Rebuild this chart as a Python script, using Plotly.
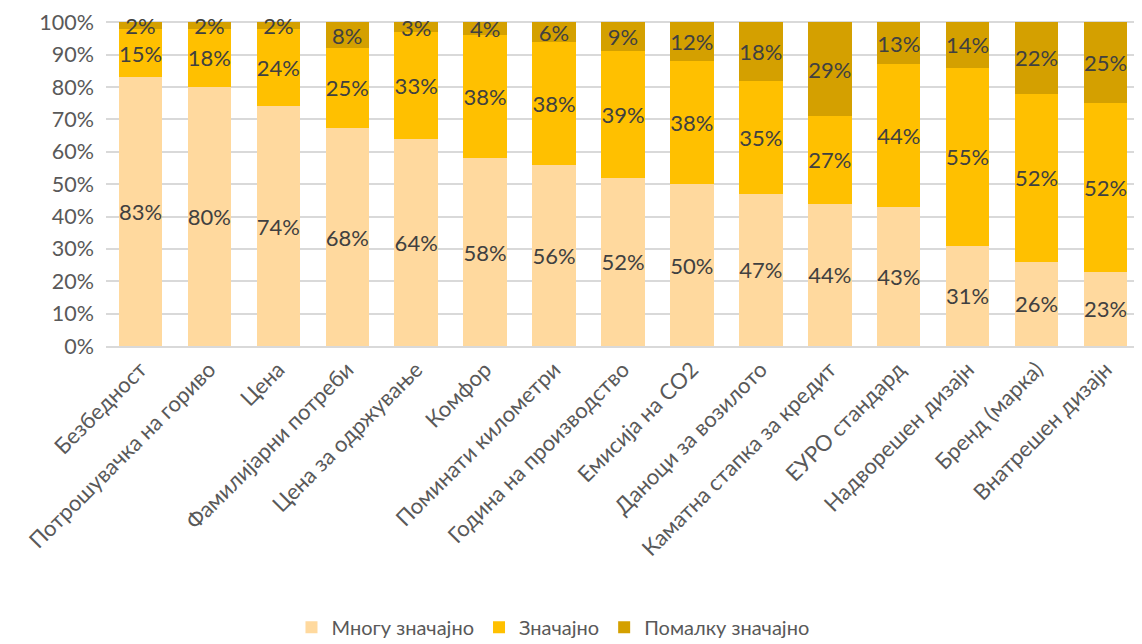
import plotly.graph_objects as go

categories = ["Безбедност", "Потрошувачка на гориво", "Цена", "Фамилијарни потреби",
              "Цена за одржување", "Комфор", "Поминати километри", "Година на производство",
              "Емисија на CO2", "Даноци за возилото", "Каматна стапка за кредит",
              "ЕУРО стандард", "Надворешен дизајн", "Бренд (марка)", "Внатрешен дизајн"]
many = [83, 80, 74, 68, 64, 58, 56, 52, 50, 47, 44, 43, 31, 26, 23]
important = [15, 18, 24, 25, 33, 38, 38, 39, 38, 35, 27, 44, 55, 52, 52]
little = [2, 2, 2, 8, 3, 4, 6, 9, 12, 18, 29, 13, 14, 22, 25]
series_names = ["Многу значајно", "Значајно", "Помалку значајно"]
colors = ["#FFD99E", "#FFC000", "#D4A000"]
yticks = list(range(0, 101, 10))

FONT = "Lato"
fig = go.Figure()
for name, vals, col in zip(series_names, [many, important, little], colors):
    fig.add_trace(go.Bar(
        x=categories, y=vals, name=name, marker=dict(color=col, line=dict(width=0)),
        text=[f"{v}%" for v in vals], textposition="inside", insidetextanchor="middle",
        textangle=0, textfont=dict(family=FONT, size=22, color="#404040"),
        cliponaxis=False,
    ))

fig.update_layout(
    barmode="stack", barnorm="percent", bargap=0.37,
    width=1134, height=636, paper_bgcolor="white", plot_bgcolor="white",
    margin=dict(l=86, r=2, t=13, b=298, autoexpand=False),
    font=dict(family=FONT, size=22, color="#595959"),
    uniformtext=dict(minsize=22, mode="show"),
    legend=dict(orientation="h", x=0.4388, xanchor="center", y=-0.865, yanchor="middle",
                font=dict(family=FONT, size=20, color="#595959"), traceorder="normal"),
    showlegend=True,
)
fig.update_xaxes(domain=[0.01147, 1], tickangle=-45, showgrid=False, showline=True,
                 linecolor="#D9D9D9", linewidth=2, ticks="", automargin=False,
                 tickfont=dict(family=FONT, size=22, color="#595959"))
fig.update_yaxes(anchor="free", position=0, range=[0, 100.4], tickvals=yticks,
                 ticktext=[f"{t}%" for t in yticks],
                 showgrid=True, gridcolor="#D9D9D9", gridwidth=2, zeroline=False,
                 showline=False, ticks="", automargin=False, ticklabeloverflow="allow",
                 tickfont=dict(family=FONT, size=21.5, color="#595959"))

fig.write_html("out.html")
